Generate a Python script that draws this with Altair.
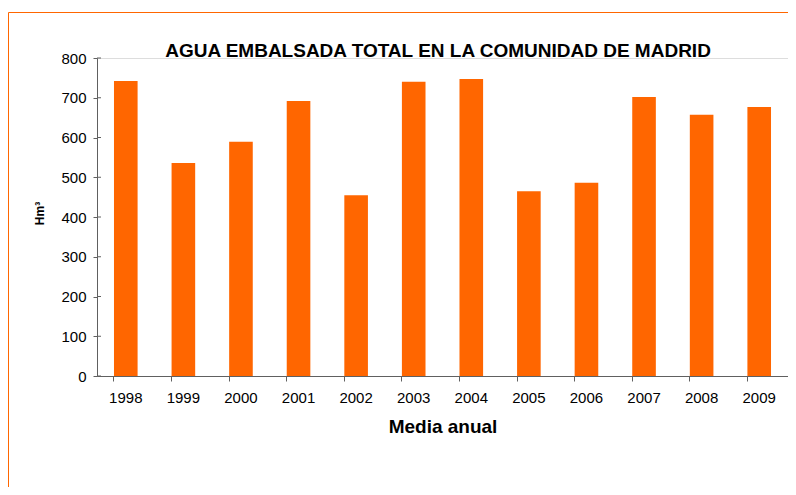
import altair as alt
import pandas as pd

years = ["1998", "1999", "2000", "2001", "2002", "2003", "2004", "2005", "2006", "2007", "2008", "2009"]
values = [742, 536, 589, 692, 455, 740, 747, 465, 486, 702, 657, 677]
y_ticks = [0, 100, 200, 300, 400, 500, 600, 700, 800]
title_text = ["AGUA EMBALSADA TOTAL EN LA COMUNIDAD DE MADRID"]

df = pd.DataFrame({"year": years, "value": values})
tdf = pd.DataFrame({"t": title_text})
tickdf = pd.DataFrame({"value": y_ticks})

FONT = "Liberation Sans"
ORANGE = "#FF6600"
AXC = "#606060"

yscale = alt.Scale(domain=[0, 800], nice=False)
yaxis = alt.Axis(title="Hm³", values=y_ticks,
                 labelFontSize=15, labelFont=FONT, labelColor="#000000",
                 labelPadding=7, tickSize=4, tickColor=AXC,
                 domainColor=AXC, grid=False,
                 titleFont=FONT, titleFontSize=12, titleFontWeight="bold",
                 titlePadding=14, titleColor="#000000", titleY=155)

bars = alt.Chart(df).mark_bar(color=ORANGE).encode(
    x=alt.X("year:N", sort=years,
            scale=alt.Scale(paddingInner=0.59, paddingOuter=0.295),
            axis=alt.Axis(title="Media anual", labelAngle=0, labelFontSize=15,
                          labelFont=FONT, labelColor="#000000", labelPadding=9,
                          tickSize=5, tickColor=AXC, domainColor=AXC,
                          titleFont=FONT, titleFontSize=19, titleFontWeight="bold",
                          titlePadding=12, titleColor="#000000", bandPosition=0)),
    y=alt.Y("value:Q", scale=yscale, axis=yaxis),
)

inner_ticks = alt.Chart(tickdf).mark_rule(color=AXC, strokeWidth=1).encode(
    y=alt.Y("value:Q", scale=yscale, axis=yaxis),
    x=alt.value(0), x2=alt.value(4),
)

frame = alt.Chart(tdf).mark_rect(fill=None, stroke=ORANGE, strokeWidth=1).encode(
    x=alt.value(-88.5), x2=alt.value(720), y=alt.value(-45.5), y2=alt.value(460)
)

title = alt.Chart(tdf).mark_text(font=FONT, fontSize=19, fontWeight="bold", color="#000000",
                                 align="center", baseline="alphabetic").encode(
    text="t:N", x=alt.value(341), y=alt.value(-1.5)
)

chart = alt.layer(frame, bars, inner_ticks, title).properties(
    width=691, height=318,
    padding={"left": 89, "top": 50, "right": 0, "bottom": 111},
    autosize=alt.AutoSizeParams(type="none"),
).configure_view(stroke=None).configure_axis(grid=False).configure(background="white")

chart.save("out.html", embed_options={"renderer": "svg", "actions": False})
